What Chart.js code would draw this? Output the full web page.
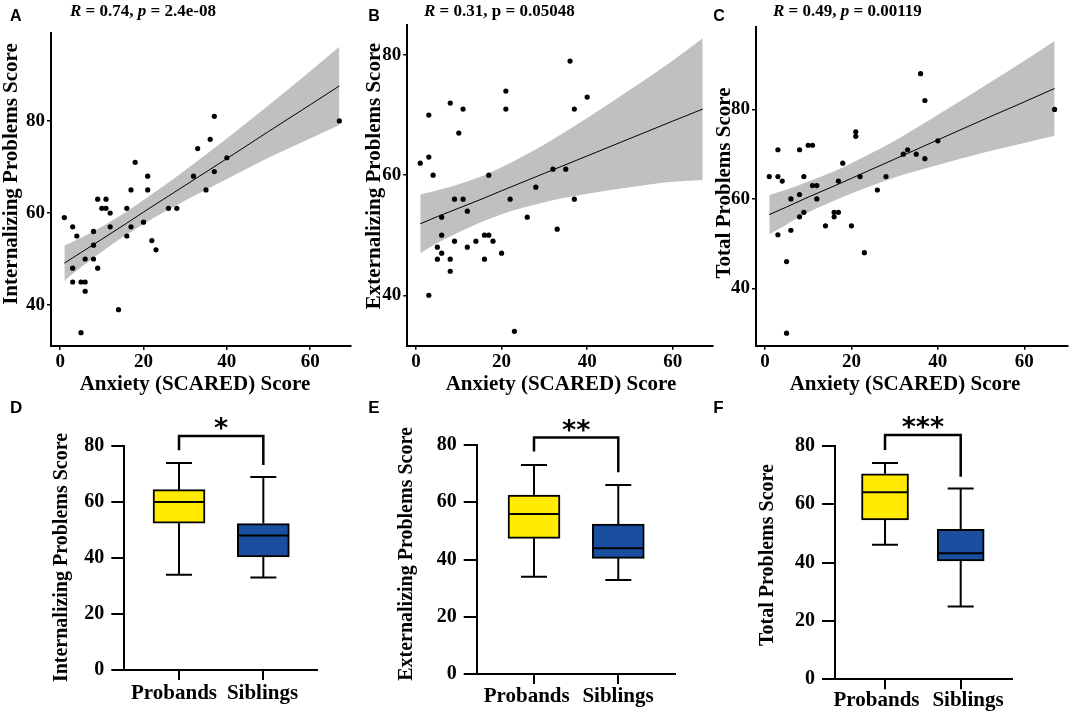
<!DOCTYPE html>
<html><head><meta charset="utf-8">
<script src="https://cdn.jsdelivr.net/npm/chart.js@4.4.1/dist/chart.umd.min.js"></script>
<style>
html,body{margin:0;padding:0;background:#fff;width:1072px;height:715px;overflow:hidden}
canvas{position:absolute;left:0;top:0}
</style></head><body>
<canvas id="cA" width="1072" height="715"></canvas>
<canvas id="cB" width="1072" height="715"></canvas>
<canvas id="cC" width="1072" height="715"></canvas>
<canvas id="cD" width="1072" height="715"></canvas>
<canvas id="cE" width="1072" height="715"></canvas>
<canvas id="cF" width="1072" height="715"></canvas>
<script>
// ---------- DATA ----------
// Panel A: Anxiety vs Internalizing
const aAnx = [67,37,36,33,40,18,21,32,37,17,21,35,9,11,10,11,12,16,26,28,1,3,12,17,20,4,16,8,8,22,23,6,8,3,9,3,5,6,6,14,5];
const aInt = [80,81,76,74,72,71,68,68,69,65,65,65,63,63,61,61,60,61,61,61,59,57,57,57,58,55,55,56,53,54,52,50,50,48,48,45,45,45,43,39,34];
// Panel B: Anxiety vs Externalizing
const bAnx = [36,21,40,8,11,21,37,3,10,3,1,4,17,32,35,28,9,11,22,37,12,6,26,33,6,16,17,9,14,18,5,12,6,20,5,8,16,8,3,23];
const bExt = [79,74,73,72,71,71,71,70,67,63,62,60,60,61,61,58,56,56,56,56,54,53,53,51,50,50,50,49,49,49,48,48,47,47,46,46,46,44,40,34];
// Panel C: Anxiety vs Total
const cAnx = [36,37,67,21,21,40,3,8,10,11,33,32,35,37,18,1,3,9,22,28,4,17,11,12,26,8,6,12,9,8,16,17,16,14,20,6,3,23,5,5];
const cTot = [88,82,80,75,74,73,71,71,72,72,71,70,70,69,68,65,65,65,65,65,64,64,63,63,62,61,60,60,57,56,57,57,56,54,54,53,52,48,46,30];

// Fitted lines and confidence bands
const bandX = [1,5,10,16,20,30,40,50,60,67];
const aFit  = [49.1,51.4,54.3,57.8,60.2,66.0,71.8,77.7,83.5,87.6];
const aHi   = [52.9,54.6,57.0,60.3,62.8,69.3,76.2,83.4,90.8,96.1];
const aLo   = [45.3,48.2,51.6,55.3,57.6,62.7,67.4,72.0,76.2,79.1];
const bFit  = [51.9,53.1,54.5,56.2,57.4,60.3,63.2,66.1,69.0,71.0];
const bHi   = [56.8,57.5,58.5,60.0,61.3,65.1,69.5,74.2,79.1,82.8];
const bLo   = [47.0,48.7,50.5,52.4,53.5,55.5,56.9,58.0,58.9,59.2];
const cFit  = [56.5,58.2,60.4,62.9,64.6,68.9,73.2,77.5,81.7,84.7];
const cHi   = [60.9,62.1,63.9,66.2,68.0,73.0,78.8,84.8,90.9,95.3];
const cLo   = [52.1,54.3,57.0,59.6,61.2,64.8,67.6,70.2,72.5,74.1];

// Tick labels
const scatterXTicks = [0,20,40,60];
const scatterYTicks = [40,60,80];
const boxYTicks = [0,20,40,60,80];
const groups = ['Probands','Siblings'];

// Box plot statistics [Probands, Siblings]
const dMin=[34,33],   dQ1=[52.4,40.4], dMed=[60,48],   dQ3=[64.4,52.3], dMax=[73.9,68.9];
const eMin=[34,32.8], eQ1=[47.4,40.4], eMed=[55.9,43.9], eQ3=[62.5,52.4], eMax=[73,66];
const fMin=[46.1,24.9], fQ1=[54.6,40.5], fMed=[64.1,43.2], fQ3=[70.4,51.4], fMax=[74.1,65.3];
// significance brackets [left leg end, bar level, right leg end]
const dBracket=[78.5,83.6,73.2], eBracket=[77.7,82.6,70.5], fBracket=[78.5,83.7,69.4];
const dStars='*', eStars='**', fStars='***';

// ---------- STYLE / LAYOUT ----------
const W=1072, H=715;
const SERIF="'Liberation Serif','Times New Roman',serif";
const SANS="'Liberation Sans',Arial,sans-serif";
const GRAY='#C0C0C0', YEL='#FFEB00', BLU='#1A4F9F';
Chart.defaults.color='#000';
Chart.defaults.font.family=SERIF;

// chart area [L,T,R,B] -> padding, leaving room (yW, xH) for the axis boxes
function pad(a,yW,xH){return {left:a[0]-yW,top:a[1],right:W-a[2],bottom:H-a[3]-xH};}
function fixTicks(vals){return s=>{s.ticks=vals.map(v=>({value:v}));};}

function textPlugin(items){
  return {id:'panelText', afterDraw(chart){
    const ctx=chart.ctx;
    items.forEach(it=>{
      ctx.save();
      ctx.fillStyle='#000'; ctx.textBaseline='alphabetic'; ctx.textAlign='left';
      ctx.translate(it.x,it.y);
      if(it.rot) ctx.rotate(it.rot);
      const ws=it.segs.map(s=>{ctx.font=s[1];return ctx.measureText(s[0]).width;});
      const tot=ws.reduce((a,b)=>a+b,0);
      let x0=it.center?-tot/2:0;
      it.segs.forEach((s,i)=>{ctx.font=s[1];ctx.fillText(s[0],x0,0);x0+=ws[i];});
      ctx.restore();
    });
  }};
}

const fB=(s)=>'bold '+s+'px '+SERIF, fBI=(s)=>'italic bold '+s+'px '+SERIF, fL=(s)=>'bold '+s+'px '+SANS;

function scatterChart(id,o){
  const pts=o.xs.map((x,i)=>({x,y:o.ys[i]}));
  const band=arr=>bandX.map((x,i)=>({x,y:arr[i]}));
  const YW=45, XH=30;
  new Chart(document.getElementById(id),{
    type:'scatter',
    data:{datasets:[
      {type:'line',data:band(o.lo),borderColor:'rgba(0,0,0,0)',borderWidth:0,pointRadius:0,fill:false,cubicInterpolationMode:'monotone',order:3},
      {type:'line',data:band(o.hi),borderColor:'rgba(0,0,0,0)',borderWidth:0,pointRadius:0,fill:'-1',backgroundColor:GRAY,cubicInterpolationMode:'monotone',order:2},
      {type:'line',data:band(o.fit),borderColor:'#000',borderWidth:1,pointRadius:0,fill:false,order:1},
      {data:pts,pointRadius:2.6,pointBackgroundColor:'#000',pointBorderWidth:0,order:0}
    ]},
    options:{
      responsive:false,animation:false,events:[],
      layout:{padding:pad(o.area,YW,XH)},
      plugins:{legend:{display:false},tooltip:{enabled:false}},
      scales:{
        x:{type:'linear',min:o.xr[0],max:o.xr[1],afterBuildTicks:fixTicks(scatterXTicks),afterFit:s=>{s.height=XH;},
           grid:{display:true,drawOnChartArea:false,drawTicks:true,tickLength:4,color:'#000',lineWidth:1.5},
           border:{display:true,color:'#000',width:2},
           ticks:{color:'#000',font:{family:SERIF,size:19,weight:'bold'},padding:1,maxRotation:0,autoSkip:false}},
        y:{type:'linear',min:o.yr[0],max:o.yr[1],afterBuildTicks:fixTicks(scatterYTicks),afterFit:s=>{s.width=YW;},
           grid:{display:true,drawOnChartArea:false,drawTicks:true,tickLength:4,color:'#000',lineWidth:1.5},
           border:{display:true,color:'#000',width:2},
           ticks:{color:'#000',font:{family:SERIF,size:19,weight:'bold'},padding:2,autoSkip:false}}
      }
    },
    plugins:[textPlugin(o.texts)]
  });
}

function boxExtras(o){
  const CAP=13;
  return {id:'boxExtras',
    beforeDatasetsDraw(chart){
      const {ctx,scales:{x,y}}=chart;
      ctx.save();ctx.strokeStyle='#000';ctx.lineWidth=2;
      o.min.forEach((mn,i)=>{
        const px=x.getPixelForValue(i);
        const yMin=y.getPixelForValue(mn), yMax=y.getPixelForValue(o.max[i]);
        ctx.beginPath();
        ctx.moveTo(px,yMin);ctx.lineTo(px,y.getPixelForValue(o.q1[i]));
        ctx.moveTo(px,y.getPixelForValue(o.q3[i]));ctx.lineTo(px,yMax);
        ctx.moveTo(px-CAP,yMin);ctx.lineTo(px+CAP,yMin);
        ctx.moveTo(px-CAP,yMax);ctx.lineTo(px+CAP,yMax);
        ctx.stroke();
      });
      ctx.restore();
    },
    afterDatasetsDraw(chart){
      const {ctx,scales:{x,y}}=chart;
      ctx.save();ctx.strokeStyle='#000';ctx.lineWidth=2;
      o.med.forEach((m,i)=>{
        const px=x.getPixelForValue(i), py=y.getPixelForValue(m);
        ctx.beginPath();ctx.moveTo(px-o.bw/2+1,py);ctx.lineTo(px+o.bw/2-1,py);ctx.stroke();
      });
      const x0=x.getPixelForValue(0), x1=x.getPixelForValue(1);
      const yt=y.getPixelForValue(o.br[1]);
      ctx.lineWidth=2.5;ctx.lineJoin='miter';
      ctx.beginPath();
      ctx.moveTo(x0,y.getPixelForValue(o.br[0]));ctx.lineTo(x0,yt);ctx.lineTo(x1,yt);ctx.lineTo(x1,y.getPixelForValue(o.br[2]));
      ctx.stroke();
      ctx.fillStyle='#000';ctx.textAlign='center';ctx.textBaseline='alphabetic';
      ctx.font="bold 27px 'DejaVu Sans',sans-serif";
      ctx.fillText(o.stars,(x0+x1)/2,yt+1);
      // category labels (names from the groups array)
      ctx.font=fB(21);
      groups.forEach((g,i)=>ctx.fillText(g,o.lab[i],o.labY));
      ctx.restore();
    }
  };
}

function boxChart(id,o){
  const YW=45, XH=35;
  new Chart(document.getElementById(id),{
    type:'bar',
    data:{datasets:[{
      data:o.q1.map((q,i)=>({x:i,y:[q,o.q3[i]]})),
      backgroundColor:[YEL,BLU],borderColor:'#000',borderWidth:2,borderSkipped:false,barThickness:o.bw
    }]},
    options:{
      responsive:false,animation:false,events:[],
      layout:{padding:pad(o.area,YW,XH)},
      plugins:{legend:{display:false},tooltip:{enabled:false}},
      scales:{
        x:{type:'linear',min:o.xr[0],max:o.xr[1],offset:false,afterBuildTicks:fixTicks([0,1]),afterFit:s=>{s.height=XH;},
           grid:{display:true,offset:false,drawOnChartArea:false,drawTicks:true,tickLength:10,color:'#000',lineWidth:2},
           border:{display:true,color:'#000',width:2},
           ticks:{display:false,autoSkip:false}},
        y:{type:'linear',min:0,max:80,afterBuildTicks:fixTicks(boxYTicks),afterFit:s=>{s.width=YW;},
           grid:{display:true,drawOnChartArea:false,drawTicks:true,tickLength:13,color:'#000',lineWidth:2},
           border:{display:true,color:'#000',width:2},
           ticks:{color:'#000',font:{family:SERIF,size:20,weight:'bold'},padding:7,autoSkip:false}}
      }
    },
    plugins:[textPlugin(o.texts),boxExtras(o)]
  });
}

const XT='Anxiety (SCARED) Score';
const R90=-Math.PI/2;

scatterChart('cA',{xs:aAnx,ys:aInt,fit:aFit,hi:aHi,lo:aLo,area:[51,33,351,346],xr:[-2.2,69.8],yr:[31.1,99.1],
  texts:[
    {x:10,y:20.5,segs:[['A',fL(16)]]},
    {x:70,y:16,segs:[['R',fBI(17)],[' = 0.74, ',fB(17)],['p',fBI(17)],[' = 2.4e-08',fB(17)]]},
    {x:195,y:390,center:true,segs:[[XT,fB(21)]]},
    {x:16.7,y:174,rot:R90,center:true,segs:[['Internalizing Problems Score',fB(21)]]}
  ]});
scatterChart('cB',{xs:bAnx,ys:bExt,fit:bFit,hi:bHi,lo:bLo,area:[407.3,25,713,345.7],xr:[-2.03,69.4],yr:[31.6,85.0],
  texts:[
    {x:368.3,y:20.5,segs:[['B',fL(16)]]},
    {x:424,y:16,segs:[['R',fBI(17)],[' = 0.31, p = 0.05048',fB(17)]]},
    {x:561,y:390,center:true,segs:[[XT,fB(21)]]},
    {x:380,y:176,rot:R90,center:true,segs:[['Externalizing Problems Score',fB(21)]]}
  ]});
scatterChart('cC',{xs:cAnx,ys:cTot,fit:cFit,hi:cHi,lo:cLo,area:[756,26.7,1070,345.7],xr:[-2.07,70.1],yr:[27.2,98.5],
  texts:[
    {x:713.3,y:20.5,segs:[['C',fL(16)]]},
    {x:773,y:16,segs:[['R',fBI(17)],[' = 0.49, ',fB(17)],['p',fBI(17)],[' = 0.00119',fB(17)]]},
    {x:905,y:390,center:true,segs:[[XT,fB(21)]]},
    {x:730,y:183,rot:R90,center:true,segs:[['Total Problems Score',fB(21)]]}
  ]});

boxChart('cD',{min:dMin,q1:dQ1,med:dMed,q3:dQ3,max:dMax,br:dBracket,stars:dStars,bw:52,
  area:[124.3,446,316.7,670],xr:[-0.649,1.633],lab:[174,262.5],labY:699,
  texts:[
    {x:10,y:413.3,segs:[['D',fL(17)]]},
    {x:66.7,y:557.5,rot:R90,center:true,segs:[['Internalizing Problems Score',fB(20)]]}
  ]});
boxChart('cE',{min:eMin,q1:eQ1,med:eMed,q3:eQ3,max:eMax,br:eBracket,stars:eStars,bw:52,
  area:[476.7,445,675,674],xr:[-0.680,1.673],lab:[526.7,618],labY:702,
  texts:[
    {x:368.3,y:413.3,segs:[['E',fL(17)]]},
    {x:412.3,y:554,rot:R90,center:true,segs:[['Externalizing Problems Score',fB(20)]]}
  ]});
boxChart('cF',{min:fMin,q1:fQ1,med:fMed,q3:fQ3,max:fMax,br:fBracket,stars:fStars,bw:47,
  area:[835,445.7,1011.7,679.3],xr:[-0.661,1.674],lab:[876.5,968],labY:706,
  texts:[
    {x:713.3,y:413.3,segs:[['F',fL(17)]]},
    {x:773,y:555,rot:R90,center:true,segs:[['Total Problems Score',fB(20)]]}
  ]});
</script>
</body></html>
